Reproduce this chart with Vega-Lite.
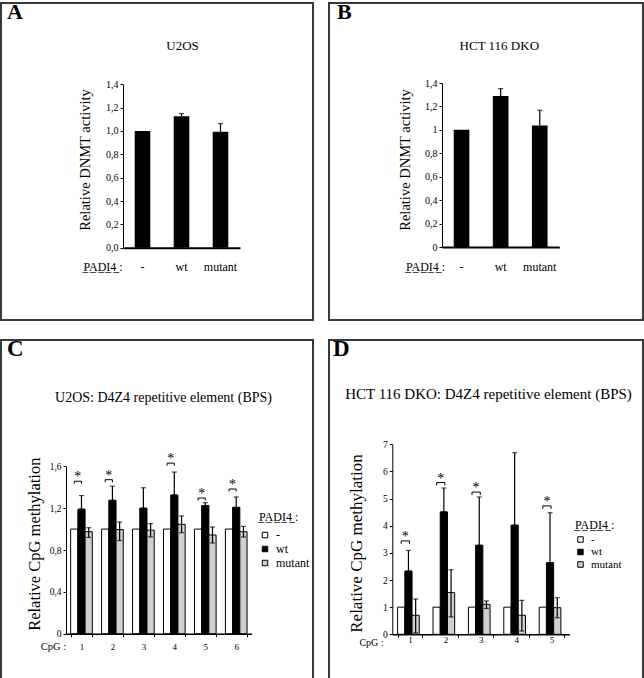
{
  "$schema": "https://vega.github.io/schema/vega-lite/v6.json",
  "padding": 0,
  "bounds": "flush",
  "columns": 2,
  "spacing": {"row": 20, "column": 16},
  "resolve": {"scale": {"color": "independent"}, "legend": {"color": "independent"}},
  "datasets": {
    "A": [
      {"PADI4": "-", "value": 1.0},
      {"PADI4": "wt", "value": 1.127, "lo": 1.127, "hi": 1.149},
      {"PADI4": "mutant", "value": 0.993, "lo": 0.993, "hi": 1.063}
    ],
    "B": [
      {"PADI4": "-", "value": 1.0},
      {"PADI4": "wt", "value": 1.289, "lo": 1.289, "hi": 1.352},
      {"PADI4": "mutant", "value": 1.037, "lo": 1.037, "hi": 1.167}
    ],
    "C": [
      {"cpg": "1", "PADI4": "-", "value": 1.0},
      {"cpg": "1", "PADI4": "wt", "value": 1.19, "lo": 1.19, "hi": 1.32},
      {"cpg": "1", "PADI4": "mutant", "value": 0.975, "lo": 0.92, "hi": 1.013},
      {"cpg": "2", "PADI4": "-", "value": 1.0},
      {"cpg": "2", "PADI4": "wt", "value": 1.275, "lo": 1.275, "hi": 1.41},
      {"cpg": "2", "PADI4": "mutant", "value": 0.995, "lo": 0.89, "hi": 1.068},
      {"cpg": "3", "PADI4": "-", "value": 1.0},
      {"cpg": "3", "PADI4": "wt", "value": 1.2, "lo": 1.2, "hi": 1.395},
      {"cpg": "3", "PADI4": "mutant", "value": 0.99, "lo": 0.925, "hi": 1.052},
      {"cpg": "4", "PADI4": "-", "value": 1.0},
      {"cpg": "4", "PADI4": "wt", "value": 1.326, "lo": 1.326, "hi": 1.545},
      {"cpg": "4", "PADI4": "mutant", "value": 1.045, "lo": 0.966, "hi": 1.125},
      {"cpg": "5", "PADI4": "-", "value": 1.0},
      {"cpg": "5", "PADI4": "wt", "value": 1.225, "lo": 1.225, "hi": 1.253},
      {"cpg": "5", "PADI4": "mutant", "value": 0.943, "lo": 0.867, "hi": 1.02},
      {"cpg": "6", "PADI4": "-", "value": 1.0},
      {"cpg": "6", "PADI4": "wt", "value": 1.208, "lo": 1.208, "hi": 1.307},
      {"cpg": "6", "PADI4": "mutant", "value": 0.975, "lo": 0.924, "hi": 1.026}
    ],
    "Cb": [
      {"cpg": "1", "PADI4": "-", "b": 1.457},
      {"cpg": "2", "PADI4": "-", "b": 1.472},
      {"cpg": "4", "PADI4": "-", "b": 1.63},
      {"cpg": "5", "PADI4": "-", "b": 1.297},
      {"cpg": "6", "PADI4": "-", "b": 1.383}
    ],
    "D": [
      {"cpg": "1", "PADI4": "-", "value": 1.0},
      {"cpg": "1", "PADI4": "wt", "value": 2.33, "lo": 2.33, "hi": 3.09},
      {"cpg": "1", "PADI4": "mutant", "value": 0.7, "lo": 0.05, "hi": 1.3},
      {"cpg": "2", "PADI4": "-", "value": 1.0},
      {"cpg": "2", "PADI4": "wt", "value": 4.51, "lo": 4.51, "hi": 5.39},
      {"cpg": "2", "PADI4": "mutant", "value": 1.535, "lo": 0.64, "hi": 2.38},
      {"cpg": "3", "PADI4": "-", "value": 1.0},
      {"cpg": "3", "PADI4": "wt", "value": 3.28, "lo": 3.28, "hi": 5.06},
      {"cpg": "3", "PADI4": "mutant", "value": 1.105, "lo": 0.95, "hi": 1.23},
      {"cpg": "4", "PADI4": "-", "value": 1.0},
      {"cpg": "4", "PADI4": "wt", "value": 4.02, "lo": 4.02, "hi": 6.69},
      {"cpg": "4", "PADI4": "mutant", "value": 0.7, "lo": 0.12, "hi": 1.25},
      {"cpg": "5", "PADI4": "-", "value": 1.0},
      {"cpg": "5", "PADI4": "wt", "value": 2.64, "lo": 2.64, "hi": 4.48},
      {"cpg": "5", "PADI4": "mutant", "value": 0.98, "lo": 0.61, "hi": 1.35}
    ],
    "Db": [
      {"cpg": "1", "PADI4": "-", "b": 3.44},
      {"cpg": "2", "PADI4": "-", "b": 5.59},
      {"cpg": "3", "PADI4": "-", "b": 5.24},
      {"cpg": "5", "PADI4": "-", "b": 4.73}
    ]
  },
  "concat": [
    {
      "width": 312,
      "height": 317,
      "title": {"text": "A", "anchor": "start", "frame": "group", "offset": -21, "dx": 6, "fontSize": 22, "fontWeight": "bold", "font": "Liberation Serif"},
      "data": {"name": "A"},
      "layer": [
        {
          "mark": {"type": "bar", "fill": "black"},
          "encoding": {
            "x": {"field": "PADI4", "type": "nominal", "scale": {"domain": ["-", "wt", "mutant"], "range": [122, 239], "paddingInner": 0.6, "paddingOuter": 0.3},
              "axis": {"orient": "bottom", "offset": -72.3, "ticks": false, "tickSize": 0, "labelAngle": 0, "labelFont": "Liberation Serif", "labelFontSize": 12, "labelBaseline": "middle", "labelPadding": 19, "domainWidth": 2, "title": "P̲A̲D̲I̲4̲ :", "titleFont": "Liberation Serif", "titleX": 101.5, "titleY": 19, "titleFontSize": 12, "titleBaseline": "middle", "titleAlign": "center"}},
            "y": {"field": "value", "type": "quantitative", "scale": {"domain": [0, 1.4], "range": [244.7, 81.3], "nice": false},
              "axis": {"values": [0, 0.2, 0.4, 0.6, 0.8, 1, 1.2, 1.4], "labelExpr": "replace(format(datum.value, '.1f'), '.', ',')", "offset": -122, "tickSize": 3, "labelFont": "Liberation Serif", "labelFontSize": 10, "labelPadding": 2, "title": "Relative DNMT activity", "titleFont": "Liberation Serif", "titleX": -38, "titleY": 156.5, "titleFontSize": 14.5, "titleBaseline": "middle", "titleAlign": "center", "titleAngle": -90, "minExtent": 0, "maxExtent": 0}}
          }
        },
        {
          "transform": [{"filter": "isValid(datum.hi)"}],
          "mark": {"type": "rule", "color": "black", "strokeWidth": 1.2},
          "encoding": {
            "x": {"field": "PADI4", "type": "nominal", "axis": null},
            "y": {"field": "lo", "type": "quantitative"},
            "y2": {"field": "hi"}
          }
        },
        {
          "transform": [{"filter": "isValid(datum.hi)"}],
          "mark": {"type": "tick", "color": "black", "size": 5, "thickness": 1.2, "orient": "horizontal"},
          "encoding": {
            "x": {"field": "PADI4", "type": "nominal", "axis": {"orient": "top", "domain": false, "ticks": false, "labels": false, "minExtent": 0, "maxExtent": 0, "title": "U2OS", "titleFont": "Liberation Serif", "titleX": 181, "titleY": 42, "titleFontSize": 13, "titleBaseline": "middle", "titleAlign": "center", "titleAngle": 0}},
            "y": {"field": "hi", "type": "quantitative"}
          }
        }
      ],
      "resolve": {"axis": {"x": "independent"}}
    },
    {
      "width": 314,
      "height": 317,
      "title": {"text": "B", "anchor": "start", "frame": "group", "offset": -21, "dx": 8, "fontSize": 22, "fontWeight": "bold", "font": "Liberation Serif"},
      "data": {"name": "B"},
      "layer": [
        {
          "mark": {"type": "bar", "fill": "black"},
          "encoding": {
            "x": {"field": "PADI4", "type": "nominal", "scale": {"domain": ["-", "wt", "mutant"], "range": [113, 230.3], "paddingInner": 0.6, "paddingOuter": 0.3},
              "axis": {"orient": "bottom", "offset": -73, "ticks": false, "tickSize": 0, "labelAngle": 0, "labelFont": "Liberation Serif", "labelFontSize": 12, "labelBaseline": "middle", "labelPadding": 19.5, "domainWidth": 2, "title": "P̲A̲D̲I̲4̲ :", "titleFont": "Liberation Serif", "titleX": 96, "titleY": 19.5, "titleFontSize": 12, "titleBaseline": "middle", "titleAlign": "center"}},
            "y": {"field": "value", "type": "quantitative", "scale": {"domain": [0, 1.4], "range": [244, 80], "nice": false},
              "axis": {"values": [0, 0.2, 0.4, 0.6, 0.8, 1, 1.2, 1.4], "labelExpr": "datum.value == 0 ? '0' : datum.value == 1 ? '1' : replace(format(datum.value, '.1f'), '.', ',')", "offset": -113, "tickSize": 3, "labelFont": "Liberation Serif", "labelFontSize": 10, "labelPadding": 2, "title": "Relative DNMT activity", "titleFont": "Liberation Serif", "titleX": -37, "titleY": 156.5, "titleFontSize": 14.5, "titleBaseline": "middle", "titleAlign": "center", "titleAngle": -90, "minExtent": 0, "maxExtent": 0}}
          }
        },
        {
          "transform": [{"filter": "isValid(datum.hi)"}],
          "mark": {"type": "rule", "color": "black", "strokeWidth": 1.2},
          "encoding": {
            "x": {"field": "PADI4", "type": "nominal", "axis": null},
            "y": {"field": "lo", "type": "quantitative"},
            "y2": {"field": "hi"}
          }
        },
        {
          "transform": [{"filter": "isValid(datum.hi)"}],
          "mark": {"type": "tick", "color": "black", "size": 5, "thickness": 1.2, "orient": "horizontal"},
          "encoding": {
            "x": {"field": "PADI4", "type": "nominal", "axis": {"orient": "top", "domain": false, "ticks": false, "labels": false, "minExtent": 0, "maxExtent": 0, "title": "HCT 116 DKO", "titleFont": "Liberation Serif", "titleX": 169.8, "titleY": 42, "titleFontSize": 13, "titleBaseline": "middle", "titleAlign": "center", "titleAngle": 0}},
            "y": {"field": "hi", "type": "quantitative"}
          }
        }
      ],
      "resolve": {"axis": {"x": "independent"}}
    },
    {
      "width": 312,
      "height": 339,
      "title": {"text": "C", "anchor": "start", "frame": "group", "offset": -21, "dx": 6, "fontSize": 23, "fontWeight": "bold", "font": "Liberation Serif"},
      "layer": [
        {
          "data": {"name": "C"},
          "mark": {"type": "bar", "stroke": "black", "strokeWidth": 1},
          "encoding": {
            "x": {"field": "cpg", "type": "nominal", "scale": {"domain": ["1", "2", "3", "4", "5", "6"], "range": [65, 250.7], "paddingInner": 0.3, "paddingOuter": 0.15},
              "axis": {"orient": "bottom", "offset": -45.3, "tickBand": "extent", "tickSize": 3, "labelAngle": 0, "labelFont": "Liberation Serif", "labelFontSize": 9, "labelBaseline": "middle", "labelPadding": 10, "domainWidth": 1.5, "title": "CpG :", "titleFont": "Liberation Serif", "titleX": 52, "titleY": 13, "titleFontSize": 10.5, "titleBaseline": "middle", "titleAlign": "center"}},
            "xOffset": {"field": "PADI4", "type": "nominal", "scale": {"domain": ["-", "wt", "mutant"], "paddingInner": 0, "paddingOuter": 0}},
            "y": {"field": "value", "type": "quantitative", "scale": {"domain": [0, 1.6], "range": [293.7, 126.3], "nice": false},
              "axis": {"values": [0, 0.4, 0.8, 1.2, 1.6], "labelExpr": "datum.value == 0 ? '0' : replace(format(datum.value, '.1f'), '.', ',')", "offset": -65, "tickSize": 3, "labelFont": "Liberation Serif", "labelFontSize": 9.5, "labelPadding": 2, "title": "Relative CpG methylation", "titleFont": "Liberation Serif", "titleX": -32, "titleY": 203.7, "titleFontSize": 16.5, "titleBaseline": "middle", "titleAlign": "center", "titleAngle": -90, "minExtent": 0, "maxExtent": 0}},
            "color": {"field": "PADI4", "type": "nominal", "scale": {"domain": ["-", "wt", "mutant"], "range": ["white", "black", "#d0d0d0"]},
              "legend": {"orient": "none", "legendX": 258, "legendY": 172, "title": "P̲A̲D̲I̲4̲ :", "titleFontSize": 12, "titleFontWeight": "normal", "titlePadding": 5, "labelFontSize": 12, "symbolType": "square", "symbolSize": 30, "symbolStrokeColor": "black", "symbolStrokeWidth": 1, "rowPadding": 2, "labelOffset": 5}}
          }
        },
        {
          "data": {"name": "C"},
          "transform": [{"filter": "isValid(datum.hi)"}],
          "mark": {"type": "rule", "color": "black", "strokeWidth": 1.2},
          "encoding": {
            "x": {"field": "cpg", "type": "nominal", "axis": null},
            "xOffset": {"field": "PADI4", "type": "nominal"},
            "y": {"field": "lo", "type": "quantitative"},
            "y2": {"field": "hi"}
          }
        },
        {
          "data": {"name": "C"},
          "transform": [{"filter": "isValid(datum.hi)"}],
          "mark": {"type": "tick", "color": "black", "size": 5, "thickness": 1.2, "orient": "horizontal"},
          "encoding": {
            "x": {"field": "cpg", "type": "nominal", "axis": {"orient": "top", "domain": false, "ticks": false, "labels": false, "minExtent": 0, "maxExtent": 0, "title": "U2OS: D4Z4 repetitive element (BPS)", "titleFont": "Liberation Serif", "titleX": 162, "titleY": 57, "titleFontSize": 14, "titleBaseline": "middle", "titleAlign": "center", "titleAngle": 0}},
            "xOffset": {"field": "PADI4", "type": "nominal"},
            "y": {"field": "hi", "type": "quantitative"}
          }
        },
        {
          "data": {"name": "C"},
          "transform": [{"filter": "isValid(datum.hi)"}],
          "mark": {"type": "tick", "color": "black", "size": 5, "thickness": 1.2, "orient": "horizontal"},
          "encoding": {
            "x": {"field": "cpg", "type": "nominal", "axis": null},
            "xOffset": {"field": "PADI4", "type": "nominal"},
            "y": {"field": "lo", "type": "quantitative"}
          }
        },
        {
          "data": {"name": "Cb"},
          "mark": {"type": "point", "shape": "M0,0.7L0,0L2,0L2,0.7", "filled": false, "stroke": "black", "strokeWidth": 1, "size": 52, "opacity": 1},
          "encoding": {
            "x": {"field": "cpg", "type": "nominal", "axis": null},
            "xOffset": {"field": "PADI4", "type": "nominal"},
            "y": {"field": "b", "type": "quantitative"}
          }
        },
        {
          "data": {"name": "Cb"},
          "mark": {"type": "text", "text": "*", "fontSize": 14, "font": "Liberation Serif", "baseline": "alphabetic", "dx": 3.6, "dy": 0, "color": "black"},
          "encoding": {
            "x": {"field": "cpg", "type": "nominal", "axis": null},
            "xOffset": {"field": "PADI4", "type": "nominal"},
            "y": {"field": "b", "type": "quantitative"}
          }
        }
      ],
      "resolve": {"axis": {"x": "independent"}}
    },
    {
      "width": 314,
      "height": 339,
      "title": {"text": "D", "anchor": "start", "frame": "group", "offset": -21, "dx": 4, "fontSize": 23, "fontWeight": "bold", "font": "Liberation Serif"},
      "layer": [
        {
          "data": {"name": "D"},
          "mark": {"type": "bar", "stroke": "black", "strokeWidth": 1},
          "encoding": {
            "x": {"field": "cpg", "type": "nominal", "scale": {"domain": ["1", "2", "3", "4", "5"], "range": [63.3, 240.3], "paddingInner": 0.3, "paddingOuter": 0.15},
              "axis": {"orient": "bottom", "offset": -44.7, "tickBand": "extent", "tickSize": 3, "labelAngle": 0, "labelFont": "Liberation Serif", "labelFontSize": 9, "labelBaseline": "middle", "labelPadding": 2.5, "domainWidth": 1.5, "title": "CpG :", "titleFont": "Liberation Serif", "titleX": 42, "titleY": 8, "titleFontSize": 10, "titleBaseline": "middle", "titleAlign": "center"}},
            "xOffset": {"field": "PADI4", "type": "nominal", "scale": {"domain": ["-", "wt", "mutant"], "paddingInner": 0, "paddingOuter": 0}},
            "y": {"field": "value", "type": "quantitative", "scale": {"domain": [0, 7], "range": [294.3, 104.3], "nice": false},
              "axis": {"values": [0, 1, 2, 3, 4, 5, 6, 7], "offset": -63.3, "tickSize": 3, "labelFont": "Liberation Serif", "labelFontSize": 9.5, "labelPadding": 2, "title": "Relative CpG methylation", "titleFont": "Liberation Serif", "titleX": -36.3, "titleY": 203, "titleFontSize": 17, "titleBaseline": "middle", "titleAlign": "center", "titleAngle": -90, "minExtent": 0, "maxExtent": 0}},
            "color": {"field": "PADI4", "type": "nominal", "scale": {"domain": ["-", "wt", "mutant"], "range": ["white", "black", "#d0d0d0"]},
              "legend": {"orient": "none", "legendX": 246, "legendY": 180, "title": "P̲A̲D̲I̲4̲ :", "titleFontSize": 12, "titleFontWeight": "normal", "titlePadding": 2, "labelFontSize": 11, "symbolType": "square", "symbolSize": 30, "symbolStrokeColor": "black", "symbolStrokeWidth": 1, "rowPadding": 0.5, "labelOffset": 5}}
          }
        },
        {
          "data": {"name": "D"},
          "transform": [{"filter": "isValid(datum.hi)"}],
          "mark": {"type": "rule", "color": "black", "strokeWidth": 1.2},
          "encoding": {
            "x": {"field": "cpg", "type": "nominal", "axis": null},
            "xOffset": {"field": "PADI4", "type": "nominal"},
            "y": {"field": "lo", "type": "quantitative"},
            "y2": {"field": "hi"}
          }
        },
        {
          "data": {"name": "D"},
          "transform": [{"filter": "isValid(datum.hi)"}],
          "mark": {"type": "tick", "color": "black", "size": 5, "thickness": 1.2, "orient": "horizontal"},
          "encoding": {
            "x": {"field": "cpg", "type": "nominal", "axis": {"orient": "top", "domain": false, "ticks": false, "labels": false, "minExtent": 0, "maxExtent": 0, "title": "HCT 116 DKO: D4Z4 repetitive element (BPS)", "titleFont": "Liberation Serif", "titleX": 159, "titleY": 53.7, "titleFontSize": 15, "titleBaseline": "middle", "titleAlign": "center", "titleAngle": 0}},
            "xOffset": {"field": "PADI4", "type": "nominal"},
            "y": {"field": "hi", "type": "quantitative"}
          }
        },
        {
          "data": {"name": "D"},
          "transform": [{"filter": "isValid(datum.hi)"}],
          "mark": {"type": "tick", "color": "black", "size": 5, "thickness": 1.2, "orient": "horizontal"},
          "encoding": {
            "x": {"field": "cpg", "type": "nominal", "axis": null},
            "xOffset": {"field": "PADI4", "type": "nominal"},
            "y": {"field": "lo", "type": "quantitative"}
          }
        },
        {
          "data": {"name": "Db"},
          "mark": {"type": "point", "shape": "M0,0.7L0,0L2,0L2,0.7", "filled": false, "stroke": "black", "strokeWidth": 1, "size": 68, "opacity": 1},
          "encoding": {
            "x": {"field": "cpg", "type": "nominal", "axis": null},
            "xOffset": {"field": "PADI4", "type": "nominal"},
            "y": {"field": "b", "type": "quantitative"}
          }
        },
        {
          "data": {"name": "Db"},
          "mark": {"type": "text", "text": "*", "fontSize": 14, "font": "Liberation Serif", "baseline": "alphabetic", "dx": 4.1, "dy": 0, "color": "black"},
          "encoding": {
            "x": {"field": "cpg", "type": "nominal", "axis": null},
            "xOffset": {"field": "PADI4", "type": "nominal"},
            "y": {"field": "b", "type": "quantitative"}
          }
        }
      ],
      "resolve": {"axis": {"x": "independent"}}
    }
  ],
  "config": {
    "font": "Liberation Serif",
    "view": {"stroke": "#383838", "strokeWidth": 2},
    "axis": {"domainColor": "black", "tickColor": "black", "labelColor": "black", "titleColor": "black", "grid": false, "labelFont": "Liberation Serif", "titleFont": "Liberation Serif", "titleFontWeight": "normal"},
    "legend": {"labelFont": "Liberation Serif", "titleFont": "Liberation Serif", "labelColor": "black", "titleColor": "black"},
    "title": {"font": "Liberation Serif", "color": "black"}
  }
}
